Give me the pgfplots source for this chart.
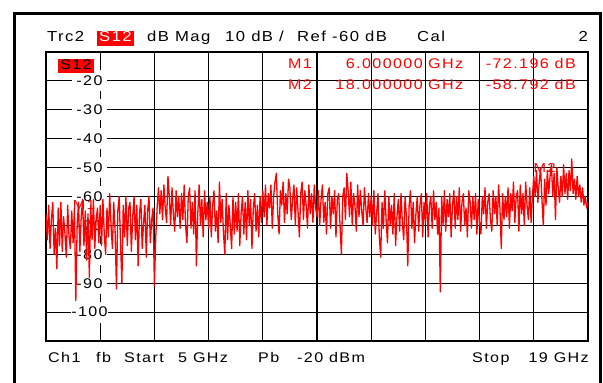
\documentclass[border=0pt]{standalone}
\usepackage{fontspec}
\setmainfont{Liberation Sans}
\newfontfamily\vna[FakeStretch=1.15,LetterSpace=10]{Liberation Sans}
\usepackage{pgfplots}
\usepackage{pgfplotstable}
\pgfplotsset{compat=1.18}
\definecolor{trc}{RGB}{255,0,0}

\pgfplotstableread[row sep=\\]{
y\\
-66\\-75\\-63\\-78\\-68\\-62\\-80\\-71\\-85\\-64\\-77\\-62\\-79\\-67\\-73\\-81\\-63\\-74\\-78\\-65\\
-76\\-64\\-96\\-70\\-62\\-79\\-67\\-61\\-77\\-65\\-82\\-66\\-88\\-63\\-75\\-61\\-78\\-68\\-64\\-76\\
-63\\-77\\-61\\-73\\-80\\-64\\-74\\-59\\-70\\-78\\-62\\-72\\-92\\-65\\-60\\-76\\-90\\-63\\-74\\-60\\
-77\\-64\\-62\\-79\\-67\\-60\\-75\\-63\\-84\\-66\\-61\\-78\\-69\\-63\\-81\\-65\\-60\\-76\\-68\\-64\\
-91\\-74\\-64\\-57\\-66\\-58\\-68\\-56\\-64\\-69\\-53\\-60\\-70\\-57\\-66\\-72\\-58\\-67\\-60\\-71\\
-59\\-68\\-56\\-70\\-76\\-60\\-57\\-71\\-62\\-73\\-58\\-84\\-66\\-56\\-70\\-61\\-74\\-58\\-68\\-62\\
-71\\-60\\-74\\-63\\-58\\-72\\-65\\-76\\-55\\-69\\-61\\-73\\-80\\-59\\-75\\-63\\-70\\-78\\-60\\-73\\
-62\\-72\\-59\\-77\\-66\\-60\\-73\\-62\\-75\\-58\\-70\\-61\\-78\\-64\\-59\\-72\\-63\\-74\\-60\\-69\\
-58\\-67\\-56\\-70\\-59\\-64\\-56\\-71\\-60\\-55\\-52\\-66\\-73\\-58\\-63\\-55\\-69\\-59\\-66\\-54\\
-57\\-68\\-61\\-56\\-70\\-57\\-65\\-74\\-59\\-55\\-68\\-58\\-63\\-71\\-56\\-66\\-59\\-69\\-56\\-64\\
-67\\-58\\-70\\-61\\-56\\-69\\-62\\-73\\-59\\-57\\-71\\-60\\-66\\-58\\-74\\-61\\-59\\-70\\-80\\-60\\
-57\\-68\\-52\\-58\\-67\\-55\\-70\\-59\\-63\\-72\\-56\\-67\\-58\\-65\\-70\\-57\\-64\\-69\\-59\\-67\\
-60\\-70\\-58\\-73\\-66\\-59\\-74\\-81\\-62\\-71\\-58\\-68\\-76\\-60\\-70\\-63\\-73\\-59\\-77\\-67\\
-61\\-72\\-59\\-69\\-75\\-60\\-67\\-84\\-63\\-58\\-71\\-62\\-76\\-66\\-60\\-72\\-63\\-59\\-74\\-62\\
-69\\-59\\-74\\-63\\-60\\-71\\-58\\-68\\-62\\-73\\-64\\-93\\-60\\-70\\-58\\-72\\-61\\-67\\-59\\-74\\
-63\\-58\\-71\\-60\\-68\\-57\\-72\\-62\\-59\\-70\\-64\\-74\\-58\\-62\\-71\\-60\\-68\\-59\\-73\\-61\\
-69\\-73\\-60\\-66\\-57\\-71\\-62\\-59\\-68\\-72\\-58\\-66\\-60\\-70\\-56\\-64\\-78\\-59\\-68\\-60\\
-67\\-57\\-71\\-59\\-65\\-55\\-69\\-60\\-58\\-72\\-56\\-66\\-59\\-70\\-55\\-63\\-68\\-57\\-69\\-60\\
-53\\-60\\-51\\-62\\-55\\-50\\-61\\-70\\-54\\-63\\-51\\-59\\-53\\-49\\-60\\-52\\-68\\-50\\-57\\-62\\
-53\\-60\\-49\\-59\\-52\\-61\\-51\\-58\\-47\\-59\\-54\\-61\\-53\\-60\\-56\\-62\\-57\\-63\\-60\\-64\\-62\\
}\trace

\begin{document}
\begin{tikzpicture}[x=1pt,y=1pt]
\fill[white] (0,0) rectangle (603,383);
\path[use as bounding box] (0,0) rectangle (603,383);
\begin{scope}
\clip (0,0) rectangle (603,383);
\draw[line width=3pt, black] (14.5,-10) -- (14.5,369.5) -- (600,369.5) -- (600,-10);
\end{scope}
% header
\begin{scope}[every node/.style={inner sep=0pt, font=\fontsize{14.5}{16}\vna}]
\node[anchor=base west] at (47,341) {Trc2};
\node[anchor=base west, fill=trc, text=white, inner xsep=2pt, text height=11pt, text depth=4pt] at (97,341) {S12};
\node[anchor=base west] at (147,341) {dB Mag};
\node[anchor=base west] at (225,341) {10 dB /};
\node[anchor=base west] at (297,341) {Ref -60 dB};
\node[anchor=base west] at (417,341) {Cal};
\node[anchor=base east] at (588,341) {2};
\end{scope}
% bottom
\begin{scope}[every node/.style={inner sep=0pt, font=\fontsize{14}{16}\vna}]
\node[anchor=base west] at (48,20) {Ch1};
\node[anchor=base west] at (96,20) {fb};
\node[anchor=base west] at (124,20) {Start};
\node[anchor=base west] at (178,20) {5 GHz};
\node[anchor=base west] at (258,20) {Pb};
\node[anchor=base west] at (297,20) {-20 dBm};
\node[anchor=base west] at (472,20) {Stop};
\node[anchor=base east] at (589,20) {19 GHz};
\end{scope}
\begin{axis}[at={(46pt,42pt)}, anchor=south west, scale only axis,
  width=542pt, height=289pt,
  xmin=0, xmax=400, ymin=-110, ymax=-10,
  xtick={0,40,...,400}, ytick={-110,-100,...,-10},
  xticklabels={}, yticklabels={}, major tick length=0pt,
  grid=major, major grid style={black, line width=1.1pt},
  axis line style={black, line width=1.2pt},
  clip=true]
\foreach \v in {-20,-30,-40,-50,-60,-70,-80,-90,-100} {
  \edef\temp{\noexpand\node[fill=white, inner sep=0pt, minimum width=35pt, minimum height=21pt, font=\noexpand\fontsize{14}{16}\noexpand\vna] at (axis cs:32.1,\v) {\v};}
  \temp
}
\node[fill=trc, text=black, inner xsep=2pt, inner ysep=0pt, text height=11pt, text depth=3pt, font=\fontsize{14}{16}\vna, anchor=north west] at (axis cs:8.9,-12.2) {S12};
\addplot[trc, line width=1.3pt, line join=round] table[x expr=\coordindex, y=y] {\trace};
\node[text=trc, font=\fontsize{13}{15}\vna, inner sep=0pt] at (axis cs:28,-63) {M1};
\node[text=trc, font=\fontsize{13}{15}\vna, inner sep=0pt] at (axis cs:368,-50) {M2};
\end{axis}
% marker readout
\begin{scope}[every node/.style={inner sep=0pt, text=trc, font=\fontsize{14}{16}\vna}]
\node[anchor=base west] at (288,314) {M1};
\node[anchor=base east] at (423,314) {6.000000};
\node[anchor=base west] at (428,314) {GHz};
\node[anchor=base east] at (576,314) {-72.196 dB};
\node[anchor=base west] at (288,293) {M2};
\node[anchor=base east] at (423,293) {18.000000};
\node[anchor=base west] at (428,293) {GHz};
\node[anchor=base east] at (576,293) {-58.792 dB};
\end{scope}
\end{tikzpicture}
\end{document}
